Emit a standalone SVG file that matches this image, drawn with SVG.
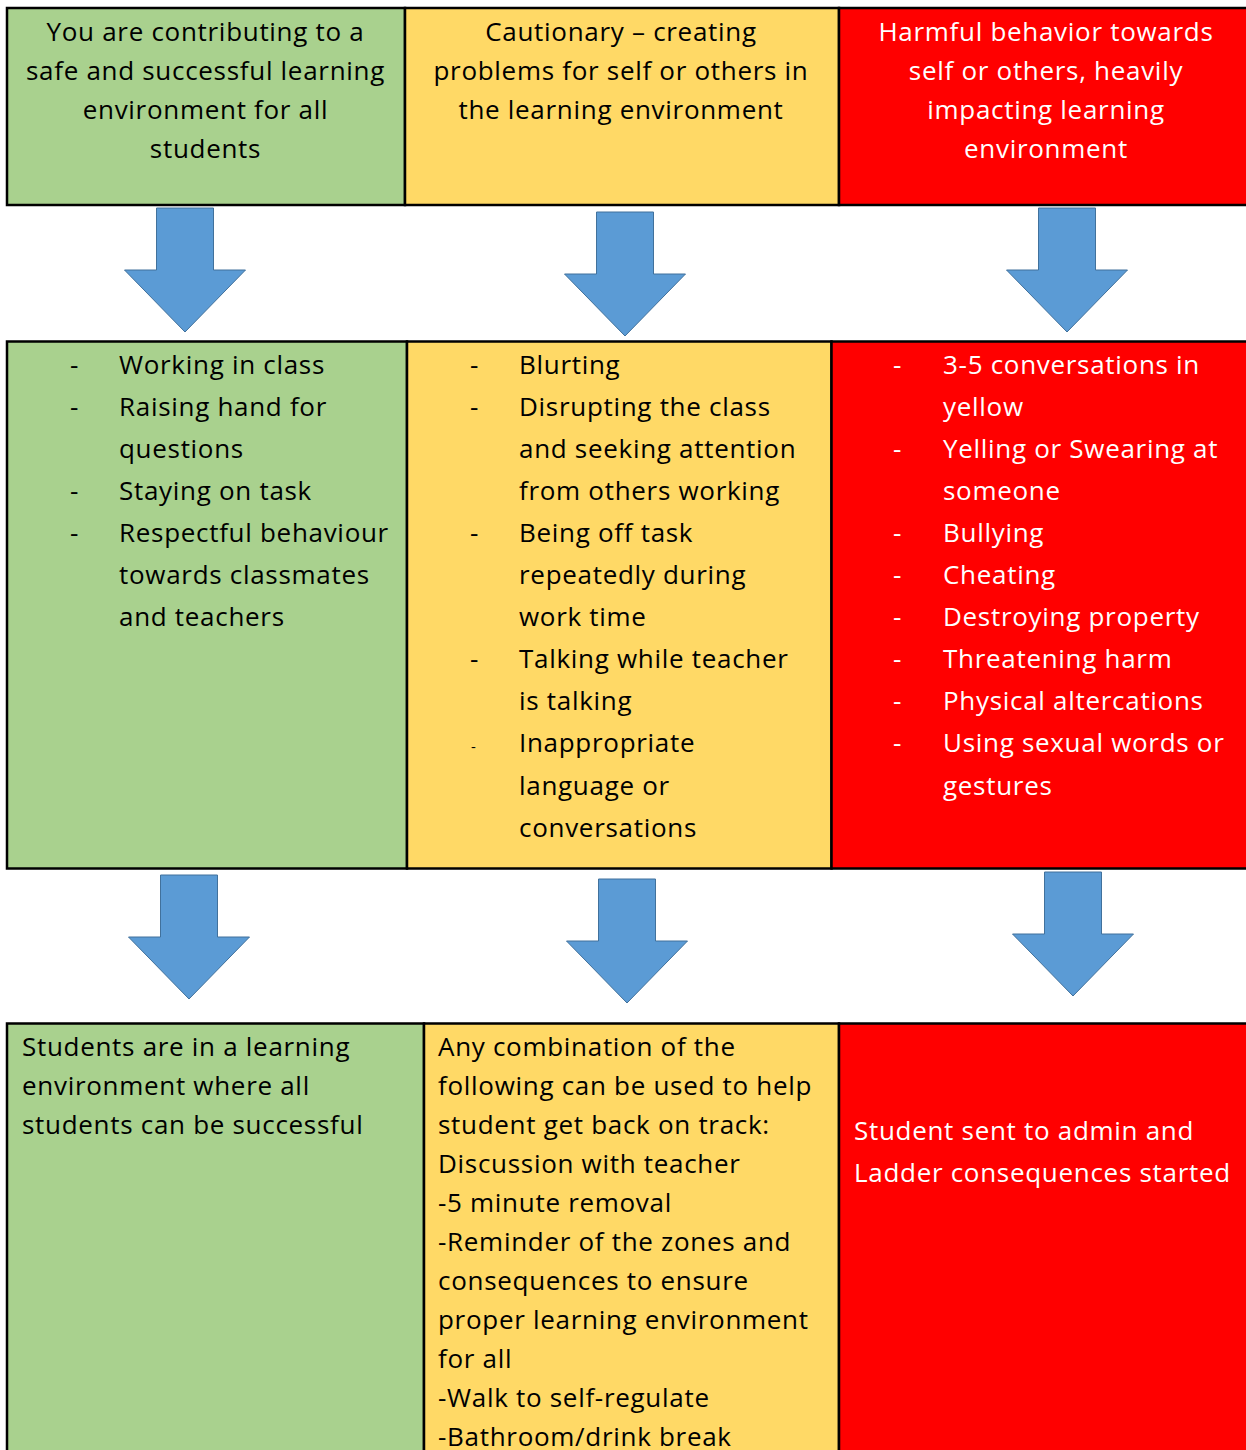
<svg xmlns="http://www.w3.org/2000/svg" width="1246" height="1450" viewBox="0 0 1246 1450">
<style>
.g{fill:#A9D18E}.y{fill:#FFD966}.r{fill:#FF0000}
.cell{stroke:#000;stroke-width:2.5}
text{font-family:"Open Sans","Liberation Sans",sans-serif;font-size:26px;letter-spacing:0.7px;fill:#000}
.w{fill:#fff}
.c{text-anchor:middle}
.arr{fill:#5B9BD5;stroke:#41719C;stroke-width:1}
</style>
<defs>
<path id="arrow" class="arr" d="M-28.5,0 H28.5 V62 H60.5 L0,124 L-60.5,62 H-28.5 Z"/>
</defs>
<rect width="1246" height="1450" fill="#fff"/>

<g id="top-green">
<rect class="cell g" x="7" y="8" width="398" height="197"/>
<text class="c" x="205.5" y="41">You are contributing to a</text>
<text class="c" x="205.5" y="80">safe and successful learning</text>
<text class="c" x="205.5" y="119">environment for all</text>
<text class="c" x="205.5" y="158">students</text>
</g>
<g id="top-yellow">
<rect class="cell y" x="405" y="8" width="434" height="197"/>
<text class="c" x="621" y="41">Cautionary – creating</text>
<text class="c" x="621" y="80">problems for self or others in</text>
<text class="c" x="621" y="119">the learning environment</text>
</g>
<g id="top-red">
<rect class="cell r" x="839" y="8" width="412" height="197"/>
<text class="c w" x="1046" y="41">Harmful behavior towards</text>
<text class="c w" x="1046" y="80">self or others, heavily</text>
<text class="c w" x="1046" y="119">impacting learning</text>
<text class="c w" x="1046" y="158">environment</text>
</g>

<g id="mid-green">
<rect class="cell g" x="7" y="341.5" width="400" height="527"/>
<text x="70" y="373.5">-</text><text x="119" y="373.5">Working in class</text>
<text x="70" y="415.6">-</text><text x="119" y="415.6">Raising hand for</text>
<text x="119" y="457.7">questions</text>
<text x="70" y="499.8">-</text><text x="119" y="499.8">Staying on task</text>
<text x="70" y="541.9">-</text><text x="119" y="541.9">Respectful behaviour</text>
<text x="119" y="584">towards classmates</text>
<text x="119" y="626.1">and teachers</text>
</g>
<g id="mid-yellow">
<rect class="cell y" x="407" y="341.5" width="424.5" height="527"/>
<text x="470" y="373.5">-</text><text x="519" y="373.5">Blurting</text>
<text x="470" y="415.6">-</text><text x="519" y="415.6">Disrupting the class</text>
<text x="519" y="457.7">and seeking attention</text>
<text x="519" y="499.8">from others working</text>
<text x="470" y="541.9">-</text><text x="519" y="541.9">Being off task</text>
<text x="519" y="584">repeatedly during</text>
<text x="519" y="626.1">work time</text>
<text x="470" y="668.2">-</text><text x="519" y="668.2">Talking while teacher</text>
<text x="519" y="710.3">is talking</text>
<text x="471" y="752.4" style="font-size:15px">-</text><text x="519" y="752.4">Inappropriate</text>
<text x="519" y="794.5">language or</text>
<text x="519" y="836.6">conversations</text>
</g>
<g id="mid-red">
<rect class="cell r" x="831.5" y="341.5" width="420" height="527"/>
<text class="w" x="893" y="373.5">-</text><text class="w" x="943" y="373.5">3-5 conversations in</text>
<text class="w" x="943" y="415.6">yellow</text>
<text class="w" x="893" y="457.7">-</text><text class="w" x="943" y="457.7">Yelling or Swearing at</text>
<text class="w" x="943" y="499.8">someone</text>
<text class="w" x="893" y="541.9">-</text><text class="w" x="943" y="541.9">Bullying</text>
<text class="w" x="893" y="584">-</text><text class="w" x="943" y="584">Cheating</text>
<text class="w" x="893" y="626.1">-</text><text class="w" x="943" y="626.1">Destroying property</text>
<text class="w" x="893" y="668.2">-</text><text class="w" x="943" y="668.2">Threatening harm</text>
<text class="w" x="893" y="710.3">-</text><text class="w" x="943" y="710.3">Physical altercations</text>
<text class="w" x="893" y="752.4">-</text><text class="w" x="943" y="752.4">Using sexual words or</text>
<text class="w" x="943" y="794.5">gestures</text>
</g>

<g id="bot-green">
<rect class="cell g" x="7" y="1023.5" width="417" height="440"/>
<text x="22" y="1056">Students are in a learning</text>
<text x="22" y="1095">environment where all</text>
<text x="22" y="1134">students can be successful</text>
</g>
<g id="bot-yellow">
<rect class="cell y" x="424" y="1023.5" width="415" height="440"/>
<text x="438" y="1056">Any combination of the</text>
<text x="438" y="1095">following can be used to help</text>
<text x="438" y="1134">student get back on track:</text>
<text x="438" y="1173">Discussion with teacher</text>
<text x="438" y="1212">-5 minute removal</text>
<text x="438" y="1251">-Reminder of the zones and</text>
<text x="438" y="1290">consequences to ensure</text>
<text x="438" y="1329">proper learning environment</text>
<text x="438" y="1368">for all</text>
<text x="438" y="1407">-Walk to self-regulate</text>
<text x="438" y="1446">-Bathroom/drink break</text>
</g>
<g id="bot-red">
<rect class="cell r" x="839" y="1023.5" width="412" height="440"/>
<text class="w" x="854" y="1140">Student sent to admin and</text>
<text class="w" x="854" y="1182">Ladder consequences started</text>
</g>

<g id="connectors">
<use href="#arrow" x="185" y="208"/>
<use href="#arrow" x="625" y="212"/>
<use href="#arrow" x="1067" y="208"/>
<use href="#arrow" x="189" y="875"/>
<use href="#arrow" x="627" y="879"/>
<use href="#arrow" x="1073" y="872"/>
</g>
</svg>
